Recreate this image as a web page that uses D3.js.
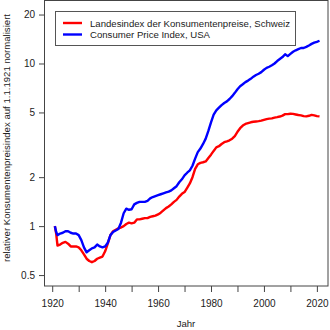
<!DOCTYPE html>
<html><head><meta charset="utf-8">
<script src="https://cdn.jsdelivr.net/npm/d3@7"></script>
<style>body{margin:0;background:#fff}svg{display:block}text{font-family:"Liberation Sans",Arial,sans-serif}</style>
</head><body>
<script>
const years = [1921,1921.5,1922,1923,1924,1925,1926,1927,1928,1929,1930,1931,1932,1933,1934,1935,1936,1937,1938,1939,1940,1941,1942,1943,1944,1945,1946,1947,1948,1949,1950,1951,1952,1953,1954,1955,1956,1957,1958,1959,1960,1961,1962,1963,1964,1965,1966,1967,1968,1969,1970,1971,1972,1973,1974,1975,1976,1977,1978,1979,1980,1981,1982,1983,1984,1985,1986,1987,1988,1989,1990,1991,1992,1993,1994,1995,1996,1997,1998,1999,2000,2001,2002,2003,2004,2005,2006,2007,2008,2009,2010,2011,2012,2013,2014,2015,2016,2017,2018,2019,2020,2021];
const swiss = [1.00,0.90,0.76,0.77,0.79,0.80,0.78,0.75,0.75,0.75,0.74,0.71,0.67,0.63,0.61,0.60,0.61,0.63,0.64,0.65,0.70,0.78,0.88,0.93,0.95,0.97,0.98,1.00,1.03,1.05,1.04,1.05,1.10,1.10,1.11,1.12,1.12,1.14,1.15,1.16,1.18,1.21,1.25,1.29,1.32,1.36,1.41,1.45,1.52,1.58,1.62,1.72,1.83,2.00,2.25,2.40,2.45,2.47,2.50,2.62,2.75,2.90,3.05,3.10,3.20,3.28,3.32,3.37,3.45,3.58,3.80,4.00,4.15,4.25,4.30,4.35,4.38,4.40,4.42,4.45,4.50,4.55,4.58,4.60,4.65,4.68,4.72,4.78,4.88,4.88,4.91,4.90,4.86,4.82,4.80,4.75,4.73,4.77,4.83,4.80,4.75,4.73];
const usa = [1.00,0.92,0.88,0.90,0.91,0.93,0.93,0.91,0.90,0.90,0.88,0.82,0.74,0.69,0.71,0.73,0.74,0.77,0.75,0.74,0.75,0.79,0.88,0.92,0.94,0.96,1.05,1.20,1.28,1.26,1.27,1.36,1.39,1.41,1.41,1.41,1.43,1.48,1.51,1.53,1.55,1.57,1.59,1.61,1.63,1.66,1.71,1.76,1.86,1.94,2.05,2.13,2.20,2.35,2.60,2.85,3.00,3.20,3.45,3.85,4.35,4.85,5.15,5.35,5.55,5.72,5.85,6.05,6.30,6.60,6.95,7.25,7.45,7.68,7.85,8.05,8.30,8.50,8.65,8.85,9.15,9.40,9.55,9.75,10.00,10.35,10.65,10.95,11.40,11.10,11.45,11.80,12.05,12.25,12.45,12.45,12.65,12.90,13.20,13.45,13.60,13.80];
const yTicks = [0.5,1,2,5,10,20];
const xTicks = [1920,1930,1940,1950,1960,1970,1980,1990,2000,2010,2020];
const xLabels = [1920,1940,1960,1980,2000,2020];
const seriesNames = ["Landesindex der Konsumentenpreise, Schweiz","Consumer Price Index, USA"];
const colors = ["#ff0000","#0000ff"];

const W=330,H=330, L=44, R=328, T=0.5, B=286, FS=9.6;
const svg=d3.select("body").append("svg").attr("width",W).attr("height",H);
const x=d3.scaleLinear().domain([1916.9,2024.2]).range([L,R]);
const y=d3.scaleLog().domain([0.4283,24.4]).range([B,T]);

// y axis
const ya=svg.append("g").attr("transform",`translate(${L},0)`)
  .call(d3.axisLeft(y).tickValues(yTicks).tickFormat(d=>String(d)).tickSize(5).tickPadding(4));
ya.select(".domain").remove();
ya.selectAll("text").attr("font-size",FS+0.4).attr("fill","#222").attr("font-family","Liberation Sans, Arial, sans-serif");
ya.selectAll("line").attr("stroke","#444");
// x axis
const xa=svg.append("g").attr("transform",`translate(0,${B})`)
  .call(d3.axisBottom(x).tickValues(xTicks).tickFormat(d=>xLabels.includes(d)?String(d):"").tickSize(6).tickPadding(8));
xa.select(".domain").remove();
xa.selectAll("text").attr("font-size",FS+0.4).attr("fill","#222").attr("font-family","Liberation Sans, Arial, sans-serif");
xa.selectAll("line").attr("stroke","#444");

// lines
const data=[swiss,usa];
const line=d3.line().x((d,i)=>x(years[i])).y(d=>y(d));
svg.append("defs").append("clipPath").attr("id","c").append("rect").attr("x",L).attr("y",T).attr("width",R-L).attr("height",B-T);
data.forEach((s,k)=>{
  svg.append("path").attr("d",line(s)).attr("fill","none").attr("stroke",colors[k]).attr("stroke-width",2.4).attr("stroke-linejoin","round").attr("clip-path","url(#c)");
});

// box
svg.append("rect").attr("x",L+0.5).attr("y",T).attr("width",R-L-0.5).attr("height",B-T).attr("fill","none").attr("stroke","#444").attr("stroke-width",1);

// legend
const lg=svg.append("g");
lg.append("rect").attr("x",55.5).attr("y",11.5).attr("width",240).attr("height",34).attr("fill","#fff").attr("stroke","#555");
seriesNames.forEach((n,k)=>{
  const yy=23+k*11.5;
  lg.append("line").attr("x1",63).attr("x2",82).attr("y1",yy).attr("y2",yy).attr("stroke",colors[k]).attr("stroke-width",2.4);
  lg.append("text").attr("x",90).attr("y",yy+3.5).attr("font-size",FS).attr("fill","#222").text(n);
});

// axis titles
svg.append("text").attr("x",(L+R)/2).attr("y",327).attr("text-anchor","middle").attr("font-size",FS).attr("fill","#222").text("Jahr");
svg.append("text").attr("transform",`translate(10,138) rotate(-90)`).attr("text-anchor","middle").attr("font-size",FS).attr("fill","#222").text("relativer Konsumentenpreisindex auf 1.1.1921 normalisiert");
</script>
</body></html>
